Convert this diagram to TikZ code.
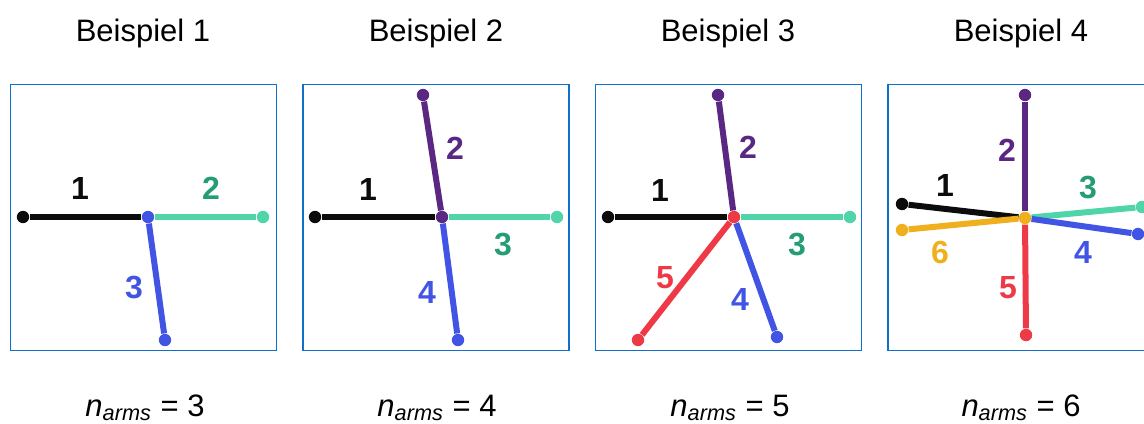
\documentclass[tikz,border=0pt]{standalone}
\usepackage{fontspec}
\setmainfont{Liberation Sans}
\usepackage{xcolor}
\usetikzlibrary{positioning}

\definecolor{boxblue}{RGB}{16,112,200}
\definecolor{armblack}{RGB}{12,12,12}
\definecolor{armgreen}{RGB}{80,212,170}
\definecolor{numgreen}{RGB}{36,156,118}
\definecolor{armpurple}{RGB}{90,40,130}
\definecolor{armblue}{RGB}{66,84,228}
\definecolor{armred}{RGB}{238,58,70}
\definecolor{armyellow}{RGB}{240,176,30}

\begin{document}
\begin{tikzpicture}[
  x=0.5pt, y=-0.5pt,
  title/.style={font=\fontsize{15.5}{18}\selectfont},
  count/.style={font=\fontsize{15.5}{18}\selectfont},
  panel/.style={draw=boxblue, line width=0.9pt, minimum width=133pt, minimum height=133pt, inner sep=0pt},
  dot/.style={circle, inner sep=0pt, minimum size=6.2pt},
  arm/.style={line width=3pt},
  num/.style={font=\bfseries\fontsize{16}{16}\selectfont},
]
\clip (0,0) rectangle (1144,423);

% titles and counts
\node[title] (t1) at (143,33) {Beispiel 1};
\node[title] (t2) at (436,33) {Beispiel 2};
\node[title] (t3) at (728,33) {Beispiel 3};
\node[title] (t4) at (1021,33) {Beispiel 4};
\node[count] (n1) at (145,408) {\itshape n\textsubscript{arms}\upshape{} = 3};
\node[count] (n2) at (437,408) {\itshape n\textsubscript{arms}\upshape{} = 4};
\node[count] (n3) at (730,408) {\itshape n\textsubscript{arms}\upshape{} = 5};
\node[count] (n4) at (1021,408) {\itshape n\textsubscript{arms}\upshape{} = 6};

% Beispiel 1
\node[panel] (p1) at (143.5,217.5) {};
\node[dot, fill=armblack] (e11) at (23,217) {};
\node[dot, fill=armgreen] (e12) at (263,217) {};
\node[dot, fill=armblue] (e13) at (165,340) {};
\node[dot, fill=armblue] (c1) at (148,217) {};
\draw[arm, armblack] (c1) -- (e11);
\draw[arm, armgreen] (c1) -- (e12);
\draw[arm, armblue] (c1) -- (e13);
\node[num, armblack] (l11) at (80,188) {1};
\node[num, numgreen] (l12) at (211,188) {2};
\node[num, armblue] (l13) at (134,288) {3};

% Beispiel 2
\node[panel] (p2) at (436,217.5) {};
\node[dot, fill=armblack] (e21) at (315,217) {};
\node[dot, fill=armpurple] (e22) at (423,95) {};
\node[dot, fill=armgreen] (e23) at (557,217) {};
\node[dot, fill=armblue] (e24) at (458,340) {};
\node[dot, fill=armpurple] (c2) at (442,217) {};
\draw[arm, armblack] (c2) -- (e21);
\draw[arm, armpurple] (c2) -- (e22);
\draw[arm, armgreen] (c2) -- (e23);
\draw[arm, armblue] (c2) -- (e24);
\node[num, armblack] (l21) at (368,189) {1};
\node[num, armpurple] (l22) at (455,148) {2};
\node[num, numgreen] (l23) at (503,245) {3};
\node[num, armblue] (l24) at (427,292) {4};

% Beispiel 3
\node[panel] (p3) at (728.5,217.5) {};
\node[dot, fill=armblack] (e31) at (608,217) {};
\node[dot, fill=armpurple] (e32) at (718,95) {};
\node[dot, fill=armgreen] (e33) at (850,217) {};
\node[dot, fill=armblue] (e34) at (777,337) {};
\node[dot, fill=armred] (e35) at (638,340) {};
\node[dot, fill=armred] (c3) at (734,217) {};
\draw[arm, armblack] (c3) -- (e31);
\draw[arm, armpurple] (c3) -- (e32);
\draw[arm, armgreen] (c3) -- (e33);
\draw[arm, armblue] (c3) -- (e34);
\draw[arm, armred] (c3) -- (e35);
\node[num, armblack] (l31) at (660,190) {1};
\node[num, armpurple] (l32) at (748,147) {2};
\node[num, numgreen] (l33) at (797,245) {3};
\node[num, armblue] (l34) at (740,299) {4};
\node[num, armred] (l35) at (665,278) {5};

% Beispiel 4 (cut off at the right)
\node[panel] (p4) at (1021,217.5) {};
\node[dot, fill=armblack] (e41) at (902,204) {};
\node[dot, fill=armpurple] (e42) at (1025,95) {};
\node[dot, fill=armgreen] (e43) at (1142,207) {};
\node[dot, fill=armblue] (e44) at (1138,234) {};
\node[dot, fill=armred] (e45) at (1026,335) {};
\node[dot, fill=armyellow] (e46) at (902,230) {};
\node[dot, fill=armyellow] (c4) at (1025,218) {};
\draw[arm, armblack] (c4) -- (e41);
\draw[arm, armpurple] (c4) -- (e42);
\draw[arm, armgreen] (c4) -- (e43);
\draw[arm, armblue] (c4) -- (e44);
\draw[arm, armred] (c4) -- (e45);
\draw[arm, armyellow] (c4) -- (e46);
\node[num, armblack] (l41) at (945,185) {1};
\node[num, armpurple] (l42) at (1007,150) {2};
\node[num, numgreen] (l43) at (1088,188) {3};
\node[num, armblue] (l44) at (1083,252) {4};
\node[num, armred] (l45) at (1008,288) {5};
\node[num, armyellow] (l46) at (940,252) {6};
\end{tikzpicture}
\end{document}
